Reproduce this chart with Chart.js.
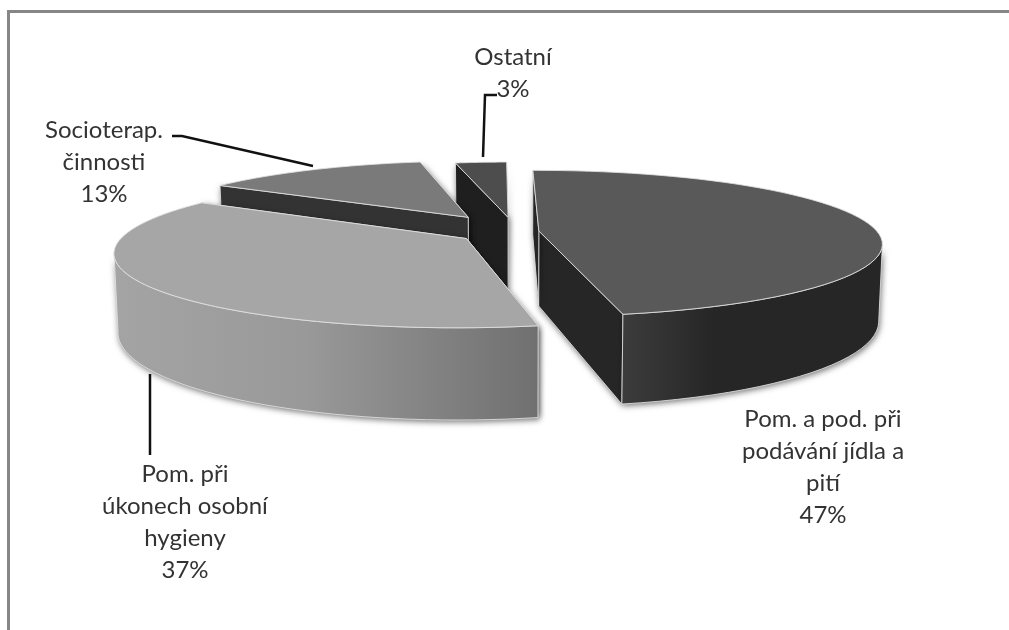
<!DOCTYPE html>
<html>
<head>
<meta charset="utf-8">
<title>Pie</title>
<script src="https://cdn.jsdelivr.net/npm/chart.js@4"></script>
<style>
  html, body { margin: 0; padding: 0; background: #fff; }
  #wrap { position: relative; width: 1009px; height: 630px; overflow: hidden; }
  #frame { position: absolute; left: 7px; top: 10px; width: 1010px; height: 640px; border-top: 3px solid #868686; border-left: 3px solid #868686; }
  #pie { position: absolute; left: 0; top: 0; }
</style>
</head>
<body>
<div id="wrap">
  <div id="frame"></div>
  <canvas id="pie" width="1009" height="630"></canvas>
</div>
<script>
const categories = ["Pom. a pod. při podávání jídla a pití", "Pom. při úkonech osobní hygieny", "Socioterap. činnosti", "Ostatní"];
const shares = [47, 37, 13, 3];
const labelLines = [
  ["Pom. a pod. při", "podávání jídla a", "pití"],
  ["Pom. při", "úkonech osobní", "hygieny"],
  ["Socioterap.", "činnosti"],
  ["Ostatní"]
];

// look of the 3d pie
const explode = [24, 58, 85, 70];
const radiusScale = [0.995, 1, 0.98, 0.96];
const topColors = ["#595959", "#a6a6a6", "#7a7a7a", "#4d4d4d"];
const sideColors = ["#262626", "#8c8c8c", "#333333", "#1f1f1f"];
const wallStops = [
  [[0, "#3c3c3c"], [0.35, "#262626"], [1, "#262626"]],
  [[0, "#a4a4a4"], [0.45, "#999999"], [1, "#707070"]],
  [[0, "#333333"], [1, "#333333"]],
  [[0, "#1f1f1f"], [1, "#1f1f1f"]]
];
const drawOrder = [3, 2, 1, 0];
const radiusPx = 340, tilt = 0.21, persp = 0.17, wallHeight = 75;

// label placement: centre x, first baseline y
const labelPos = [[823, 427], [185, 482], [104, 138], [513, 65]];
const leaders = [
  null,
  [[150, 374], [150, 455]],
  [[172, 136], [182, 136], [313, 166]],
  [[497, 95], [485, 95], [483, 157]]
];

function project(c, X, Z, low) {
  const f = 1 / (1 - persp * Z / radiusPx);
  const shrink = low ? 0.99 : 1;
  return { x: c.x + X * f * shrink, y: c.y + Z * tilt * f + (low ? wallHeight * f : 0) };
}

function tracePath(ctx, pts) {
  ctx.beginPath();
  pts.forEach((p, i) => i ? ctx.lineTo(p.x, p.y) : ctx.moveTo(p.x, p.y));
  ctx.closePath();
}

function paintFace(ctx, pts, fill, shadow) {
  ctx.save();
  if (shadow) {
    ctx.shadowColor = "rgba(0,0,0,0.55)";
    ctx.shadowBlur = 6;
    ctx.shadowOffsetX = 1;
    ctx.shadowOffsetY = 2;
  }
  tracePath(ctx, pts);
  ctx.fillStyle = fill;
  ctx.fill();
  ctx.restore();
  tracePath(ctx, pts);
  ctx.strokeStyle = "rgba(225,225,225,0.85)";
  ctx.lineWidth = 1;
  ctx.stroke();
}

function drawSlice(ctx, arc, i) {
  const mid = (arc.startAngle + arc.endAngle) / 2;
  const r = radiusPx * radiusScale[i];
  const ex = explode[i] * Math.cos(mid), ez = explode[i] * Math.sin(mid);
  const c = { x: arc.x, y: arc.y };
  const rim = (a, low) => project(c, ex + r * Math.cos(a), ez + r * Math.sin(a), low);
  const apex = low => project(c, ex, ez, low);
  const steps = 60;
  const angles = [];
  for (let s = 0; s <= steps; s++) angles.push(arc.startAngle + (arc.endAngle - arc.startAngle) * s / steps);

  // cut faces first, the rim and the top cover whatever should be hidden
  [arc.endAngle, arc.startAngle].forEach(a => {
    paintFace(ctx, [apex(false), rim(a, false), rim(a, true), apex(true)], sideColors[i], true);
  });

  // the rim shows between the left and right extremes of the perspective ellipse
  const front = angles.filter(a => Math.sin(a) >= persp);
  if (front.length > 1) {
    const upper = front.map(a => rim(a, false));
    const lower = front.map(a => rim(a, true)).reverse();
    const xs = upper.map(p => p.x);
    const g = ctx.createLinearGradient(Math.min(...xs), 0, Math.max(...xs), 0);
    wallStops[i].forEach(s => g.addColorStop(s[0], s[1]));
    paintFace(ctx, upper.concat(lower), g, true);
  }

  paintFace(ctx, [apex(false)].concat(angles.map(a => rim(a, false))), topColors[i], false);
}

const pie3d = {
  id: "pie3d",
  afterDatasetsDraw(chart) {
    const ctx = chart.ctx;
    const arcs = chart.getDatasetMeta(0).data;
    drawOrder.forEach(i => drawSlice(ctx, arcs[i], i));

    ctx.save();
    ctx.strokeStyle = "#111111";
    ctx.lineWidth = 2.5;
    leaders.forEach(line => {
      if (!line) return;
      ctx.beginPath();
      line.forEach((p, n) => n ? ctx.lineTo(p[0], p[1]) : ctx.moveTo(p[0], p[1]));
      ctx.stroke();
    });
    ctx.fillStyle = "#333333";
    ctx.font = "24px Lato, 'Open Sans', sans-serif";
    ctx.textAlign = "center";
    ctx.textBaseline = "alphabetic";
    labelLines.forEach((lines, i) => {
      lines.concat(shares[i] + "%").forEach((t, n) => {
        ctx.fillText(t, labelPos[i][0], labelPos[i][1] + n * 32);
      });
    });
    ctx.restore();
  }
};

new Chart(document.getElementById("pie").getContext("2d"), {
  type: "pie",
  data: {
    labels: categories,
    datasets: [{ data: shares, backgroundColor: "rgba(0,0,0,0)", borderWidth: 0 }]
  },
  options: {
    responsive: false,
    animation: false,
    rotation: -0.5,
    layout: { padding: { left: 21, bottom: 167 } },
    plugins: { legend: { display: false }, tooltip: { enabled: false } }
  },
  plugins: [pie3d]
});
</script>
</body>
</html>
